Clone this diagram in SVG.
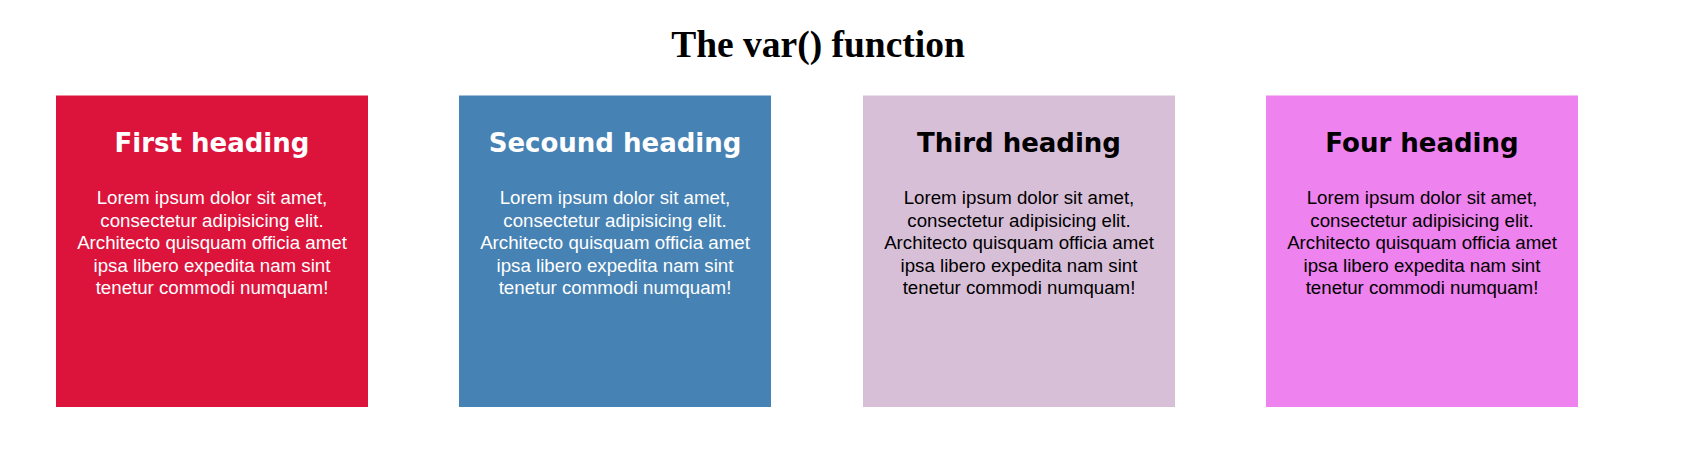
<svg xmlns="http://www.w3.org/2000/svg" width="1683" height="457" viewBox="0 0 1683 457">
<style>
.h{font-family:"Comic Sans MS","DejaVu Sans",sans-serif;font-weight:bold;font-size:26px;text-anchor:middle}
.b{font-family:"Liberation Sans",Arial,sans-serif;font-size:18.7px;text-anchor:middle}
.t{font-family:"Liberation Serif","Times New Roman",serif;font-weight:bold;font-size:37.5px;text-anchor:middle}
</style>
<rect width="1683" height="457" fill="#fff"/>
<text class="t" x="818" y="57">The var() function</text>
<g id="card1" fill="#fff">
<rect x="56" y="95.5" width="312" height="311.5" fill="#DC143C"/>
<text class="h" x="212" y="152">First heading</text>
<text class="b" x="212" y="204">Lorem ipsum dolor sit amet,</text>
<text class="b" x="212" y="226.5">consectetur adipisicing elit.</text>
<text class="b" x="212" y="249">Architecto quisquam officia amet</text>
<text class="b" x="212" y="271.5">ipsa libero expedita nam sint</text>
<text class="b" x="212" y="294">tenetur commodi numquam!</text>
</g>
<g id="card2" fill="#fff">
<rect x="459" y="95.5" width="312" height="311.5" fill="#4682B4"/>
<text class="h" x="615" y="152">Secound heading</text>
<text class="b" x="615" y="204">Lorem ipsum dolor sit amet,</text>
<text class="b" x="615" y="226.5">consectetur adipisicing elit.</text>
<text class="b" x="615" y="249">Architecto quisquam officia amet</text>
<text class="b" x="615" y="271.5">ipsa libero expedita nam sint</text>
<text class="b" x="615" y="294">tenetur commodi numquam!</text>
</g>
<g id="card3" fill="#000">
<rect x="863" y="95.5" width="312" height="311.5" fill="#D8BFD8"/>
<text class="h" x="1019" y="152">Third heading</text>
<text class="b" x="1019" y="204">Lorem ipsum dolor sit amet,</text>
<text class="b" x="1019" y="226.5">consectetur adipisicing elit.</text>
<text class="b" x="1019" y="249">Architecto quisquam officia amet</text>
<text class="b" x="1019" y="271.5">ipsa libero expedita nam sint</text>
<text class="b" x="1019" y="294">tenetur commodi numquam!</text>
</g>
<g id="card4" fill="#000">
<rect x="1266" y="95.5" width="312" height="311.5" fill="#EE82EE"/>
<text class="h" x="1422" y="152">Four heading</text>
<text class="b" x="1422" y="204">Lorem ipsum dolor sit amet,</text>
<text class="b" x="1422" y="226.5">consectetur adipisicing elit.</text>
<text class="b" x="1422" y="249">Architecto quisquam officia amet</text>
<text class="b" x="1422" y="271.5">ipsa libero expedita nam sint</text>
<text class="b" x="1422" y="294">tenetur commodi numquam!</text>
</g>
<g id="connectors"/>
</svg>
